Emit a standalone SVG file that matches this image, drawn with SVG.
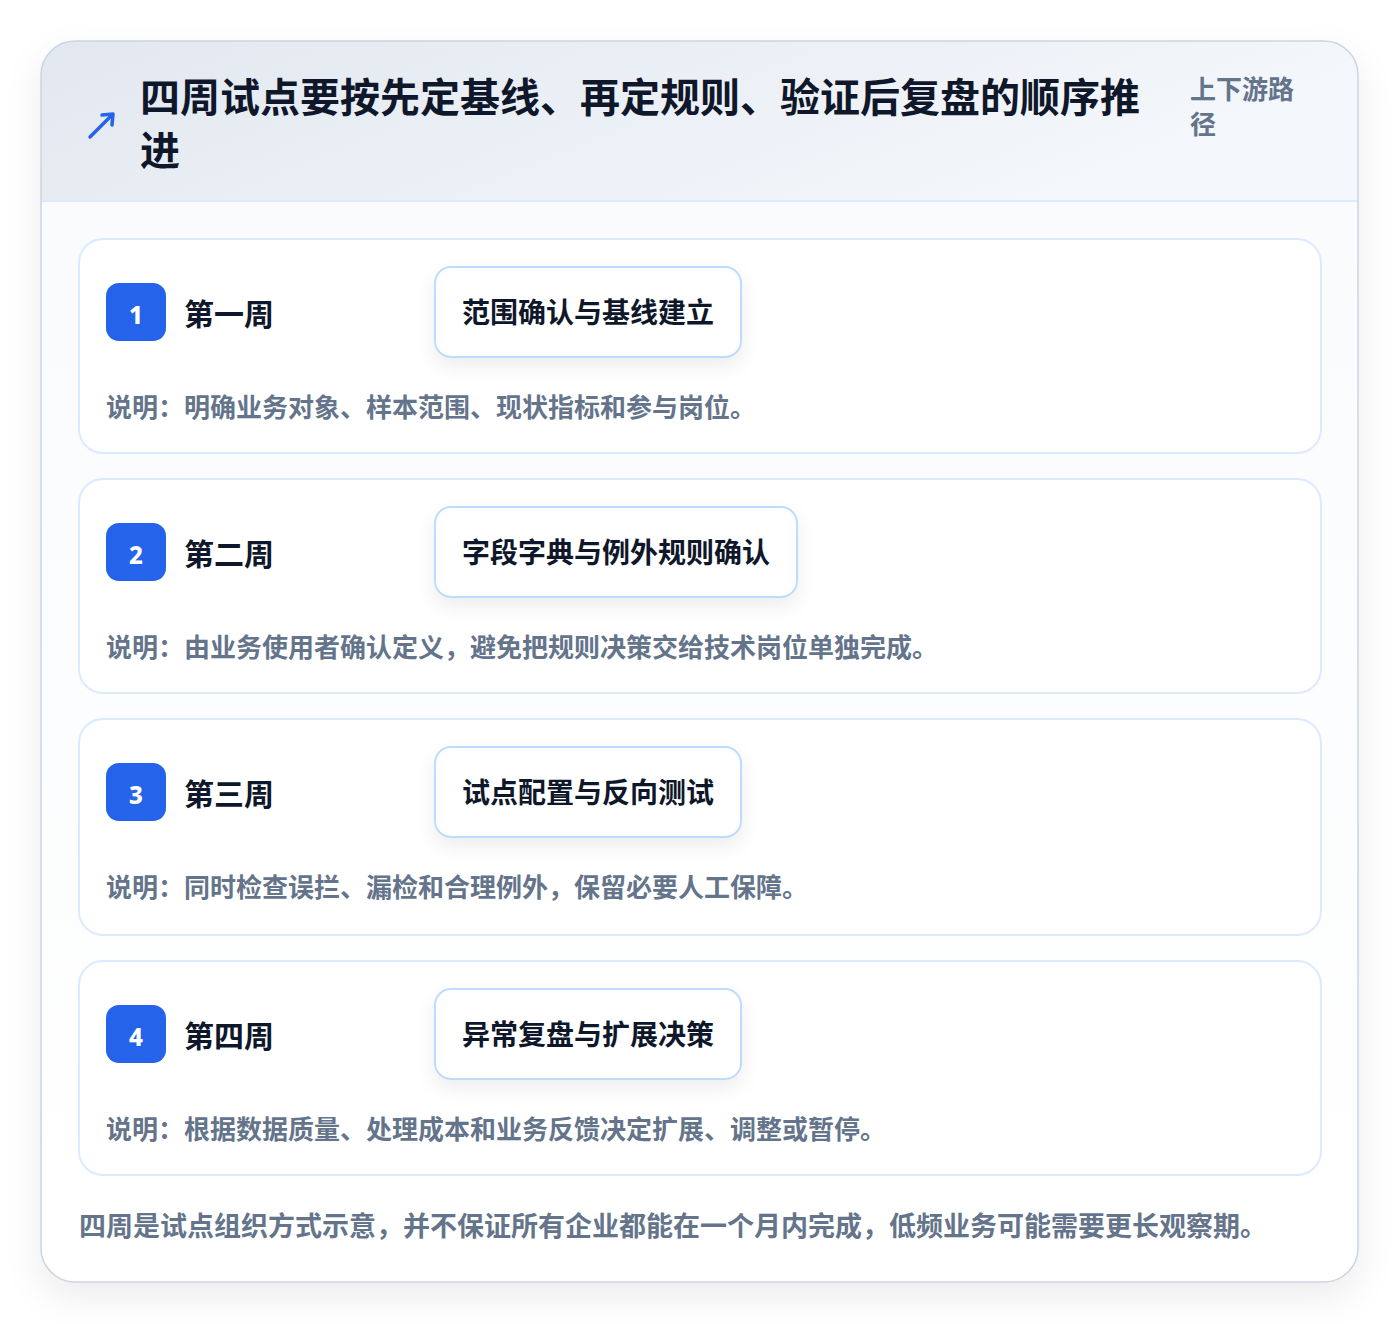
<svg xmlns="http://www.w3.org/2000/svg" width="1400" height="1324" viewBox="0 0 1400 1324">
<defs>
<style>
text{font-family:"Noto Sans CJK SC","Noto Sans",sans-serif;font-weight:700}
.title{font-size:40px;fill:#0f172a}
.sub{font-size:26px;fill:#64748b}
.week{font-size:30px;fill:#0f172a}
.num{font-size:24px;fill:#ffffff;font-family:"Noto Sans","Liberation Sans",sans-serif;font-weight:800}
.boxt{font-size:28px;fill:#0f172a}
.desc{font-size:26px;fill:#64748b}
.foot{font-size:27px;fill:#64748b}
.card{fill:#ffffff;stroke:#dbeafe;stroke-width:2}
.badge{fill:#2563eb}
.box{fill:#ffffff;stroke:#bfdbfe;stroke-width:2}
</style>
<linearGradient id="hdr" x1="0" y1="0" x2="1" y2="0.3">
<stop offset="0" stop-color="#e2e8f0"/>
<stop offset="1" stop-color="#f4f7fb"/>
</linearGradient>
<linearGradient id="body" x1="0" y1="0" x2="0" y2="1">
<stop offset="0" stop-color="#f8fafc"/>
<stop offset="1" stop-color="#ffffff"/>
</linearGradient>
<clipPath id="pclip"><rect x="41" y="41" width="1317" height="1241" rx="34"/></clipPath>
<filter id="sh" x="-10%" y="-10%" width="120%" height="120%">
<feDropShadow dx="0" dy="14" stdDeviation="18" flood-color="#0f172a" flood-opacity="0.08"/>
</filter>
<filter id="bsh" x="-20%" y="-30%" width="140%" height="180%">
<feDropShadow dx="0" dy="8" stdDeviation="9" flood-color="#0f172a" flood-opacity="0.07"/>
</filter>
</defs>
<rect width="1400" height="1324" fill="#ffffff"/>
<g id="panel">
<rect x="41" y="41" width="1317" height="1241" rx="34" fill="url(#body)" filter="url(#sh)"/>
<g clip-path="url(#pclip)">
<rect x="41" y="41" width="1317" height="160" fill="url(#hdr)"/>
<line x1="41" y1="201" x2="1358" y2="201" stroke="#dbeafe" stroke-width="2"/>
</g>
<rect x="41" y="41" width="1317" height="1241" rx="34" fill="none" stroke="#cbd5e1" stroke-width="1.5"/>
</g>
<g id="header">
<g id="icon" stroke="#2563eb" stroke-width="3.5" stroke-linecap="round" fill="none">
<line x1="90" y1="137" x2="112" y2="115"/>
<polyline points="102,115 113,114 112,125" stroke-linejoin="round"/>
</g>
<text class="title" x="140" y="112">四周试点要按先定基线、再定规则、验证后复盘的顺序推</text>
<text class="title" x="140" y="165">进</text>
<text class="sub" x="1190" y="99">上下游路</text>
<text class="sub" x="1190" y="134">径</text>
</g>
<g id="week1">
<rect class="card" x="79" y="239" width="1242" height="214" rx="24"/>
<rect class="badge" x="106" y="283" width="60" height="58" rx="13"/>
<text class="num" x="136" y="324" text-anchor="middle">1</text>
<text class="week" x="184" y="325">第一周</text>
<rect class="box" x="435" y="267" width="306" height="90" rx="16" filter="url(#bsh)"/>
<text class="boxt" x="588" y="323" text-anchor="middle">范围确认与基线建立</text>
<text class="desc" x="106" y="417">说明：明确业务对象、样本范围、现状指标和参与岗位。</text>
</g>
<g id="week2">
<rect class="card" x="79" y="479" width="1242" height="214" rx="24"/>
<rect class="badge" x="106" y="523" width="60" height="58" rx="13"/>
<text class="num" x="136" y="564" text-anchor="middle">2</text>
<text class="week" x="184" y="565">第二周</text>
<rect class="box" x="435" y="507" width="362" height="90" rx="16" filter="url(#bsh)"/>
<text class="boxt" x="616" y="563" text-anchor="middle">字段字典与例外规则确认</text>
<text class="desc" x="106" y="657">说明：由业务使用者确认定义，避免把规则决策交给技术岗位单独完成。</text>
</g>
<g id="week3">
<rect class="card" x="79" y="719" width="1242" height="216" rx="24"/>
<rect class="badge" x="106" y="763" width="60" height="58" rx="13"/>
<text class="num" x="136" y="804" text-anchor="middle">3</text>
<text class="week" x="184" y="805">第三周</text>
<rect class="box" x="435" y="747" width="306" height="90" rx="16" filter="url(#bsh)"/>
<text class="boxt" x="588" y="803" text-anchor="middle">试点配置与反向测试</text>
<text class="desc" x="106" y="897">说明：同时检查误拦、漏检和合理例外，保留必要人工保障。</text>
</g>
<g id="week4">
<rect class="card" x="79" y="961" width="1242" height="214" rx="24"/>
<rect class="badge" x="106" y="1005" width="60" height="58" rx="13"/>
<text class="num" x="136" y="1046" text-anchor="middle">4</text>
<text class="week" x="184" y="1047">第四周</text>
<rect class="box" x="435" y="989" width="306" height="90" rx="16" filter="url(#bsh)"/>
<text class="boxt" x="588" y="1045" text-anchor="middle">异常复盘与扩展决策</text>
<text class="desc" x="106" y="1139">说明：根据数据质量、处理成本和业务反馈决定扩展、调整或暂停。</text>
</g>
<g id="connectors"></g>
<g id="footer">
<text class="foot" x="79" y="1236">四周是试点组织方式示意，并不保证所有企业都能在一个月内完成，低频业务可能需要更长观察期。</text>
</g>
</svg>
